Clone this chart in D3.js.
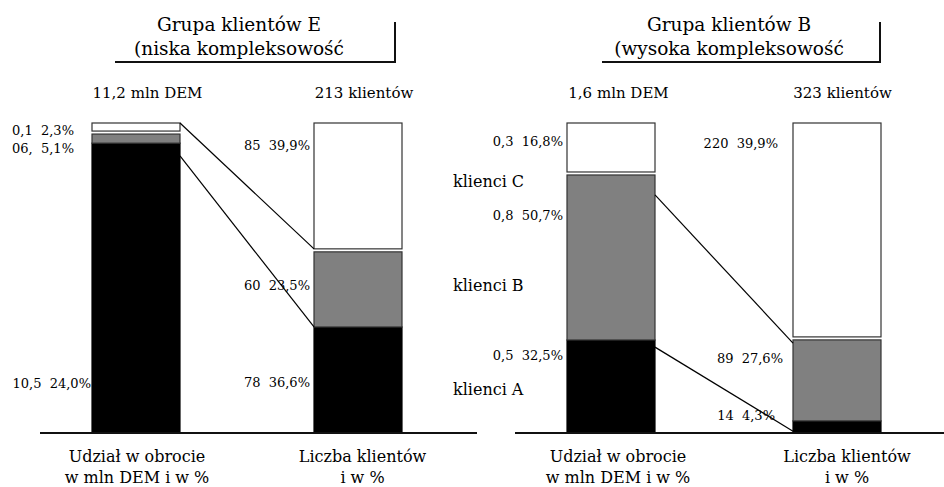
<!DOCTYPE html>
<html>
<head>
<meta charset="utf-8">
<script src="https://cdn.jsdelivr.net/npm/d3@7"></script>
<style>
  body { margin: 0; background: #fff; }
  text { font-family: "DejaVu Serif", serif; fill: #000; white-space: pre; }
</style>
</head>
<body>
<div id="chart"></div>
<script>
// stacked segments, bottom -> top: klienci A (black), B (grey), C (white)
// heights are the shares as drawn in the picture (in %)
const segmentColors = ["#000000", "#808080", "#ffffff"];

const turnoverE = [93.5, 3.9, 2.6];
const clientsE = [34.2, 25.2, 40.6];
const turnoverB = [30.0, 54.2, 15.8];
const clientsB = [3.9, 27.1, 69.0];

const titlesE = ["Grupa klientów E", "(niska kompleksowość"];
const titlesB = ["Grupa klientów B", "(wysoka kompleksowość"];
const headE = ["11,2 mln DEM", "213 klientów"];
const headB = ["1,6 mln DEM", "323 klientów"];
const footLabels = [["Udział w obrocie", "w mln DEM i w %"], ["Liczba klientów", "i w %"]];

// value labels [text, share at baseline]
const labelsTurnoverE = [["0,1  2,3%", 96.1], ["06,  5,1%", 90.3], ["10,5  24,0%", 14.5]];
const labelsClientsE = [["85  39,9%", 91.3], ["60  23,5%", 46.1], ["78  36,6%", 14.8]];
const labelsTurnoverB = [["0,3  16,8%", 92.6], ["0,8  50,7%", 68.7], ["0,5  32,5%", 23.5]];
const labelsClientsB = [["220  39,9%", 91.9], ["89  27,6%", 22.6], ["14  4,3%", 4.2]];
const groupNames = [["klienci C", 79.4], ["klienci B", 45.8], ["klienci A", 12.3]];

// connector lines [share on left bar, share on right bar]
const connectorsE = [[100, 59.4], [89.4, 34.2]];
const connectorsB = [[76.8, 29.0], [27.7, 0.6]];

const width = 944, height = 487;
const barWidth = 88, gap = 3;

const svg = d3.select("#chart").append("svg")
  .attr("width", width)
  .attr("height", height);

const y = d3.scaleLinear().domain([0, 100]).range([433, 123]);

const panels = [
  {
    bars: [turnoverE, clientsE], labels: [labelsTurnoverE, labelsClientsE],
    labelRight: [[74, 74, 91], [310, 310, 310]],
    x: d3.scaleLinear().domain([0, 1]).range([92, 314]),
    titles: titlesE, titleX: 239, bracket: [115, 395],
    heads: headE, headX: [147.5, 364], footX: [137, 362.5],
    axis: [40, 477], connectors: connectorsE
  },
  {
    bars: [turnoverB, clientsB], labels: [labelsTurnoverB, labelsClientsB],
    labelRight: [[563, 563, 563], [778, 783, 775]],
    x: d3.scaleLinear().domain([0, 1]).range([567, 793]),
    titles: titlesB, titleX: 729, bracket: [602, 880],
    heads: headB, headX: [618.5, 842.5], footX: [618, 847],
    axis: [515, 944], connectors: connectorsB
  }
];

panels.forEach((p) => {
  const g = svg.append("g");

  // title with bracket
  g.selectAll(".title")
    .data(p.titles)
    .enter()
    .append("text")
    .attr("x", p.titleX)
    .attr("y", (d, i) => 31 + i * 24)
    .attr("text-anchor", "middle")
    .style("font-size", "18.5px")
    .text((d) => d);

  g.append("path")
    .attr("d", `M${p.bracket[0]},62H${p.bracket[1]}V22`)
    .attr("fill", "none")
    .attr("stroke", "#111")
    .attr("stroke-width", 2);

  // column headers
  g.selectAll(".head")
    .data(p.heads)
    .enter()
    .append("text")
    .attr("x", (d, i) => p.headX[i])
    .attr("y", 98)
    .attr("text-anchor", "middle")
    .style("font-size", "15px")
    .text((d) => d);

  // stacked bars
  p.bars.forEach((values, bi) => {
    const x0 = p.x(bi);
    let cum = 0;
    const segs = values.map((v, i) => {
      const s = { i: i, y0: cum, y1: cum + v };
      cum += v;
      return s;
    });
    g.selectAll(null)
      .data(segs)
      .enter()
      .append("rect")
      .attr("x", x0)
      .attr("width", barWidth)
      .attr("y", (d) => y(d.y1) + (d.i === 1 ? gap : 0))
      .attr("height", (d) => Math.max(0, y(d.y0) - y(d.y1) - (d.i === 1 ? gap : 0)))
      .attr("fill", (d) => segmentColors[d.i])
      .attr("stroke", (d) => d.i === 0 ? "#000" : "#333")
      .attr("stroke-width", 1.2);

    // value labels
    g.selectAll(null)
      .data(p.labels[bi])
      .enter()
      .append("text")
      .attr("x", (d, i) => p.labelRight[bi][i])
      .attr("y", (d) => y(d[1]))
      .attr("text-anchor", "end")
      .style("font-size", "13px")
      .text((d) => d[0]);
  });

  // connector lines
  g.selectAll(null)
    .data(p.connectors)
    .enter()
    .append("line")
    .attr("x1", p.x(0) + barWidth)
    .attr("y1", (d) => y(d[0]))
    .attr("x2", p.x(1))
    .attr("y2", (d) => y(d[1]))
    .attr("stroke", "#000")
    .attr("stroke-width", 1.2);

  // baseline
  g.append("line")
    .attr("x1", p.axis[0])
    .attr("x2", p.axis[1])
    .attr("y1", y(0))
    .attr("y2", y(0))
    .attr("stroke", "#111")
    .attr("stroke-width", 2);

  // bottom labels
  footLabels.forEach((lines, i) => {
    g.selectAll(null)
      .data(lines)
      .enter()
      .append("text")
      .attr("x", p.footX[i])
      .attr("y", (d, j) => 462 + j * 21)
      .attr("text-anchor", "middle")
      .style("font-size", "16px")
      .text((d) => d);
  });
});

// group names between the panels
svg.selectAll(".group")
  .data(groupNames)
  .enter()
  .append("text")
  .attr("x", 453)
  .attr("y", (d) => y(d[1]))
  .style("font-size", "16px")
  .text((d) => d[0]);
</script>
</body>
</html>
